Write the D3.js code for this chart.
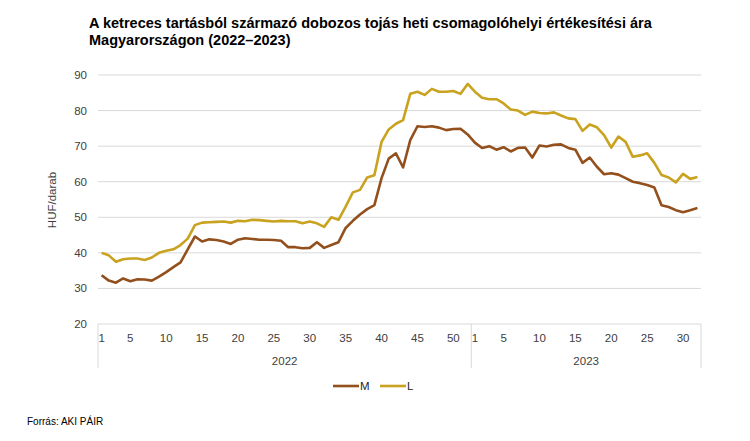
<!DOCTYPE html>
<html>
<head>
<meta charset="utf-8">
<script src="https://cdn.jsdelivr.net/npm/d3@7"></script>
<style>
  body { margin: 0; background: #fff; }
  text { font-family: "Liberation Sans", Arial, sans-serif; }
</style>
</head>
<body>
<script>
// weeks of each year shown on the x axis
const weeks2022 = d3.range(1, 53);
const weeks2023 = d3.range(1, 33);
const tickWeeks2022 = [1, 5, 10, 15, 20, 25, 30, 35, 40, 45, 50];
const tickWeeks2023 = [1, 5, 10, 15, 20, 25, 30];
const yTicks = [20, 30, 40, 50, 60, 70, 80, 90];

// M size, HUF/darab
const m2022 = [33.7, 32.2, 31.6, 32.8, 32.0, 32.6, 32.5, 32.2, 33.3, 34.6,
  36.0, 37.3, 41.0, 44.6, 43.2, 43.8, 43.6, 43.2, 42.5, 43.7,
  44.1, 43.9, 43.7, 43.7, 43.6, 43.4, 41.6, 41.6, 41.3, 41.4,
  43.0, 41.4, 42.2, 43.0, 47.0, 49.0, 50.8, 52.3, 53.4, 61.0,
  66.5, 68.0, 64.0, 71.7, 75.6, 75.4, 75.6, 75.2, 74.5, 74.8,
  74.9, 73.3];
const m2023 = [71.0, 69.5, 70.0, 69.0, 69.7, 68.5, 69.5, 69.6, 66.8, 70.2,
  69.9, 70.4, 70.5, 69.5, 69.0, 65.3, 66.8, 64.2, 62.1, 62.4,
  62.0, 61.0, 60.0, 59.6, 59.1, 58.4, 53.4, 52.9, 52.0, 51.4,
  52.0, 52.6];

// L size, HUF/darab
const l2022 = [40.0, 39.3, 37.5, 38.2, 38.4, 38.4, 38.0, 38.7, 40.0, 40.6,
  41.0, 42.2, 44.0, 47.8, 48.5, 48.6, 48.7, 48.8, 48.5, 49.0,
  48.9, 49.3, 49.2, 49.0, 48.8, 49.0, 48.9, 48.9, 48.3, 48.8,
  48.3, 47.3, 50.0, 49.3, 53.0, 57.0, 57.7, 61.2, 61.8, 71.2,
  74.7, 76.3, 77.3, 84.7, 85.3, 84.4, 86.1, 85.3, 85.3, 85.5,
  84.7, 87.5];
const l2023 = [85.3, 83.6, 83.2, 83.2, 82.0, 80.3, 80.0, 78.8, 79.7, 79.3,
  79.2, 79.5, 78.6, 77.8, 77.6, 74.3, 76.1, 75.3, 73.1, 69.6,
  72.7, 71.2, 67.0, 67.4, 68.0, 65.3, 61.9, 61.2, 59.8, 62.2,
  60.8, 61.3];

const years = ['2022', '2023'];
const seriesNames = ['M', 'L'];
const colors = { M: '#93501d', L: '#c9a21f' };

const W = 750, H = 441;
const margin = { left: 98, right: 701, top: 75, bottom: 324 };

// one band per week, both years in a row
const cats = weeks2022.map(w => '2022-' + w).concat(weeks2023.map(w => '2023-' + w));
const series = {
  M: m2022.concat(m2023),
  L: l2022.concat(l2023)
};

const svg = d3.select('body').append('svg')
  .attr('width', W)
  .attr('height', H);

const x = d3.scaleBand().domain(cats).range([margin.left, margin.right]);
const y = d3.scaleLinear().domain([20, 90]).range([margin.bottom, margin.top]);
const cx = c => x(c) + x.bandwidth() / 2;

// title
svg.append('text')
  .attr('x', 89).attr('y', 28)
  .style('font-size', '14.5px').style('font-weight', 'bold').attr('fill', '#000')
  .text('A ketreces tartásból származó dobozos tojás heti csomagolóhelyi értékesítési ára');
svg.append('text')
  .attr('x', 89).attr('y', 45)
  .style('font-size', '14.5px').style('font-weight', 'bold').attr('fill', '#000')
  .text('Magyarországon (2022–2023)');

// gridlines
svg.append('g').selectAll('line')
  .data(yTicks)
  .join('line')
  .attr('x1', margin.left).attr('x2', margin.right)
  .attr('y1', d => y(d)).attr('y2', d => y(d))
  .attr('stroke', '#d9d9d9').attr('stroke-width', 1);

// y tick labels
svg.append('g').selectAll('text')
  .data(yTicks)
  .join('text')
  .attr('x', 87).attr('y', d => y(d) + 4)
  .attr('text-anchor', 'end')
  .style('font-size', '11.5px').attr('fill', '#404040')
  .text(d => d);

svg.append('text')
  .attr('transform', 'translate(56,200) rotate(-90)')
  .attr('text-anchor', 'middle')
  .style('font-size', '11.5px').attr('fill', '#404040')
  .text('HUF/darab');

// year separators on the x axis
const yearBounds = [
  { year: years[0], from: x('2022-1'), to: x('2022-52') + x.step() },
  { year: years[1], from: x('2023-1'), to: margin.right }
];
const sepX = [yearBounds[0].from, yearBounds[0].to, yearBounds[1].to];
svg.append('g').selectAll('line')
  .data(sepX)
  .join('line')
  .attr('x1', d => d).attr('x2', d => d)
  .attr('y1', margin.bottom).attr('y2', 368)
  .attr('stroke', '#d9d9d9').attr('stroke-width', 1);

// week tick labels
const tickCats = tickWeeks2022.map(w => '2022-' + w).concat(tickWeeks2023.map(w => '2023-' + w));
svg.append('g').selectAll('text')
  .data(tickCats)
  .join('text')
  .attr('x', d => cx(d)).attr('y', 342)
  .attr('text-anchor', 'middle')
  .style('font-size', '11.5px').attr('fill', '#404040')
  .text(d => d.split('-')[1]);

svg.append('g').selectAll('text')
  .data(yearBounds)
  .join('text')
  .attr('x', d => (d.from + d.to) / 2).attr('y', 365)
  .attr('text-anchor', 'middle')
  .style('font-size', '11.5px').attr('fill', '#404040')
  .text(d => d.year);

// lines
const line = d3.line()
  .x((d, i) => cx(cats[i]))
  .y(d => y(d));

svg.append('g').selectAll('path')
  .data(seriesNames)
  .join('path')
  .attr('d', s => line(series[s]))
  .attr('fill', 'none')
  .attr('stroke', s => colors[s])
  .attr('stroke-width', 2.6)
  .attr('stroke-linejoin', 'round');

// legend
const legend = svg.append('g').attr('transform', 'translate(333,386)');
const item = legend.selectAll('g')
  .data(seriesNames)
  .join('g')
  .attr('transform', (d, i) => `translate(${i * 47},0)`);
item.append('line')
  .attr('x1', 0).attr('x2', 26)
  .attr('stroke', d => colors[d]).attr('stroke-width', 2.6);
item.append('text')
  .attr('x', 27).attr('y', 4)
  .style('font-size', '11.5px').attr('fill', '#262626')
  .text(d => d);

// source
svg.append('text')
  .attr('x', 27).attr('y', 425)
  .style('font-size', '10px').attr('fill', '#000')
  .text('Forrás: AKI PÁIR');
</script>
</body>
</html>
